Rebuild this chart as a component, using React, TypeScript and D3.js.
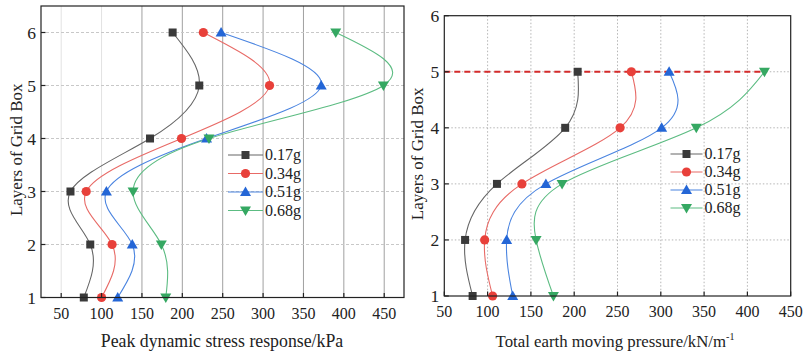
import React from "react";
import * as d3 from "d3";

const layersL = [1, 2, 3, 4, 5, 6];
const layersR = [1, 2, 3, 4, 5];
const seriesNames = ["0.17g", "0.34g", "0.51g", "0.68g"];
const stress017 = [78, 86, 61.5, 160, 221, 188];
const stress034 = [100, 113, 81, 199, 308, 226];
const stress051 = [120, 138, 106, 230, 372, 248];
const stress068 = [179.5, 174, 139, 233, 449, 390];
const press017 = [82.7, 74, 110.8, 189.6, 204];
const press034 = [105.8, 96.6, 139.6, 253, 266];
const press051 = [129, 122, 167.3, 301, 309.6];
const press068 = [176, 156, 186, 341, 419.7];
const xTicks = [50, 100, 150, 200, 250, 300, 350, 400, 450];
const yTicksL = [1, 2, 3, 4, 5, 6];
const yTicksR = [1, 2, 3, 4, 5, 6];
const refLayer = 5;

const colors = ["#3a3a3a", "#e8403a", "#2466d6", "#35a862"];
const lineColors = ["#666", "#e86a66", "#4a84e0", "#5cbc82"];
const shapes = ["square", "circle", "tri", "tridown"];
const FONT = "Times New Roman, Liberation Serif, DejaVu Serif, serif";

function Marker({ x, y, i }: { x: number; y: number; i: number }) {
  const c = colors[i];
  const s = shapes[i];
  if (s === "square") return <rect x={x - 4} y={y - 4} width={8} height={8} fill={c} />;
  if (s === "circle") return <circle cx={x} cy={y} r={4.6} fill={c} />;
  if (s === "tri")
    return <path d={`M${x},${y - 5.5}L${x + 5.5},${y + 4}L${x - 5.5},${y + 4}Z`} fill={c} />;
  return <path d={`M${x},${y + 5.5}L${x + 5.5},${y - 4}L${x - 5.5},${y - 4}Z`} fill={c} />;
}

type PanelProps = {
  left: number; right: number; top: number; bottom: number;
  xDomain: [number, number]; yDomain: [number, number];
  layers: number[]; data: number[][]; yTicks: number[];
  xTitle: React.ReactNode; yTitleX: number; xTitleX: number; xTitleFont: number;
  legendX: number; legendY: number; legendGap: number; legendLine: number;
  kind: "left" | "right";
};

function Panel(p: PanelProps) {
  const x = d3.scaleLinear().domain(p.xDomain).range([p.left, p.right]);
  const y = d3.scaleLinear().domain(p.yDomain).range([p.bottom, p.top]);
  const line = d3
    .line<[number, number]>()
    .x((d) => x(d[0]))
    .y((d) => y(d[1]))
    .curve(d3.curveNatural);
  const clipId = "clip-" + p.kind;
  return (
    <g>
      <defs>
        <clipPath id={clipId}>
          <rect x={p.left} y={p.top} width={p.right - p.left} height={p.bottom - p.top} />
        </clipPath>
      </defs>
      {p.kind === "left" &&
        xTicks.map((t) => (
          <line key={"gx" + t} x1={x(t)} x2={x(t)} y1={p.top} y2={p.bottom}
            stroke={t <= 100 ? "#e2e2e2" : "#a0a0a0"} strokeWidth={1} />
        ))}
      {p.kind === "right" &&
        xTicks.filter((t) => t > p.xDomain[0] && t < p.xDomain[1]).map((t) => (
          <line key={"gx" + t} x1={x(t)} x2={x(t)} y1={p.top} y2={p.bottom}
            stroke="#b5b5b5" strokeWidth={1} strokeDasharray="1.5,2" />
        ))}
      {p.yTicks.filter((t) => t > p.yDomain[0] && t < p.yDomain[1]).map((t) => (
        <line key={"gy" + t} x1={p.left} x2={p.right} y1={y(t)} y2={y(t)}
          stroke={p.kind === "left" ? "#c8c8c8" : "#b5b5b5"} strokeWidth={1}
          strokeDasharray={p.kind === "left" ? "3,2" : "1.5,2"} />
      ))}
      {p.kind === "right" && (
        <line x1={x(p.xDomain[0])} x2={x(press068[press068.length - 1])} y1={y(refLayer)} y2={y(refLayer)}
          stroke="#d42a2a" strokeWidth={2} strokeDasharray="6,4" />
      )}
      <g clipPath={`url(#${clipId})`}>
        {p.data.map((vals, i) => (
          <path key={"l" + i} d={line(vals.map((v, j) => [v, p.layers[j]] as [number, number])) || ""}
            fill="none" stroke={lineColors[i]} strokeWidth={1.1} />
        ))}
      </g>
      {p.data.map((vals, i) =>
        vals.map((v, j) => <Marker key={`m${i}-${j}`} x={x(v)} y={y(p.layers[j])} i={i} />)
      )}
      <rect x={p.left} y={p.top} width={p.right - p.left} height={p.bottom - p.top}
        fill="none" stroke="#222" strokeWidth={1.2} />
      {xTicks.map((t) => (
        <g key={"tx" + t}>
          <line x1={x(t)} x2={x(t)} y1={p.bottom} y2={p.bottom - 4.5} stroke="#222" strokeWidth={1.2} />
          <text x={x(t)} y={p.bottom + 21} textAnchor="middle" fontSize={16} fontFamily={FONT} fill="#222">{t}</text>
        </g>
      ))}
      {p.yTicks.map((t) => (
        <g key={"ty" + t}>
          <line x1={p.left} x2={p.left + 4.5} y1={y(t)} y2={y(t)} stroke="#222" strokeWidth={1.2} />
          <text x={p.left - 5} y={y(t) + 6} textAnchor="end" fontSize={17.5} fontFamily={FONT} fill="#222">{t}</text>
        </g>
      ))}
      <text x={p.xTitleX} y={347} textAnchor="middle" fontSize={p.xTitleFont} fontFamily={FONT} fill="#222">{p.xTitle}</text>
      <text transform={`translate(${p.yTitleX},${(p.top + p.bottom) / 2 - 2}) rotate(-90)`} textAnchor="middle"
        fontSize={17} fontFamily={FONT} fill="#222">Layers of Grid Box</text>
      {seriesNames.map((n, i) => {
        const ly = p.legendY + i * p.legendGap;
        return (
          <g key={"lg" + i}>
            <line x1={p.legendX} x2={p.legendX + p.legendLine} y1={ly} y2={ly} stroke={lineColors[i]} strokeWidth={1.1} />
            <Marker x={p.legendX + p.legendLine / 2} y={ly} i={i} />
            <text x={p.legendX + p.legendLine + 2} y={ly + 5} fontSize={16} fontFamily={FONT} fill="#222">{n}</text>
          </g>
        );
      })}
    </g>
  );
}

export default function App() {
  return (
    <svg width={807} height={356} style={{ position: "absolute", left: 0, top: 0, background: "#fff" }}>
      <rect width={807} height={356} fill="#fff" />
      <Panel kind="left" left={41} right={404} top={6} bottom={297.5}
        xDomain={[25, 474.5]} yDomain={[1, 6.5]} layers={layersL}
        data={[stress017, stress034, stress051, stress068]} yTicks={yTicksL}
        xTitle="Peak dynamic stress response/kPa" xTitleX={222} xTitleFont={17.8} yTitleX={22}
        legendX={228} legendY={155} legendGap={18.5} legendLine={35} />
      <Panel kind="right" left={444.3} right={790.7} top={15.7} bottom={296}
        xDomain={[50, 450]} yDomain={[1, 6]} layers={layersR}
        data={[press017, press034, press051, press068]} yTicks={yTicksR}
        xTitle={<>Total earth moving pressure/kN/m<tspan fontSize={10} dy={-7}>-1</tspan></>}
        xTitleX={615} xTitleFont={16.8} yTitleX={423}
        legendX={670.5} legendY={154} legendGap={18} legendLine={32} />
    </svg>
  );
}
